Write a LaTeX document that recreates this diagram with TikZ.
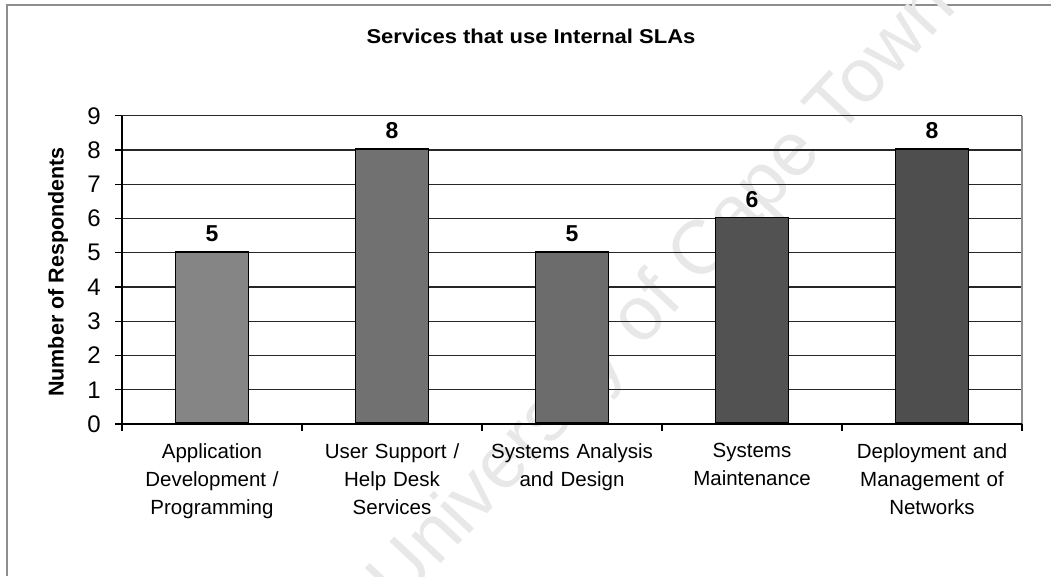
\documentclass[tikz,border=0pt]{standalone}
\usepackage{fontspec}
\setmainfont{Liberation Sans}
\newfontfamily\titlefont[FakeStretch=1.1]{Liberation Sans}
\usepackage{tikz}
\usetikzlibrary{positioning}
\definecolor{shade0}{HTML}{858585}
\definecolor{shade1}{HTML}{717171}
\definecolor{shade2}{HTML}{6C6C6C}
\definecolor{shade3}{HTML}{525252}
\definecolor{shade4}{HTML}{4E4E4E}
\definecolor{frame}{HTML}{8E8E8E}

\begin{document}
\begin{tikzpicture}[x=1pt, y=1pt,
  bar/.style={draw=black, line width=1.6pt, minimum width=73pt, inner sep=0pt,
              anchor=south},
  grid/.style={line width=1.1pt, black!85},
  value/.style={font=\bfseries\fontsize{23}{25}\selectfont, inner sep=3pt, above=6pt},
  ticklabel/.style={font=\fontsize{24}{26}\selectfont, anchor=east, inner sep=0pt},
  category/.style={font=\fontsize{20.5}{28.3}\selectfont, align=center, anchor=north,
                   inner sep=0pt, text width=170pt},
  title/.style={font=\titlefont\bfseries\fontsize{20}{22}\selectfont},
  axistitle/.style={font=\bfseries\fontsize{21.5}{24}\selectfont, rotate=90},
  watermark/.style={font=\fontsize{76}{78}\selectfont, text=black!9, rotate=47},
]
\useasboundingbox (0,0) rectangle (1051,576);

% page frame (only top and left edges show)
\draw[frame, line width=2pt] (7,0) -- (7,571) -- (1051,571);

\node[watermark] (wm) at (665,281) {University of Cape Town};

% title
\node[title] (ttl) at (531,540) {Services that use Internal SLAs};

% plot area and grid
\draw[grid] (122,186.25) -- (1022,186.25);
\draw[grid] (122,220.5) -- (1022,220.5);
\draw[grid] (122,254.75) -- (1022,254.75);
\draw[grid] (122,289) -- (1022,289);
\draw[grid] (122,323.25) -- (1022,323.25);
\draw[grid] (122,357.5) -- (1022,357.5);
\draw[grid] (122,391.75) -- (1022,391.75);
\draw[grid] (122,426) -- (1022,426);
\draw[grid] (122,460.25) -- (1022,460.25);
\draw[frame, line width=1.2pt] (1022,152) -- (1022,460.25);

% bars
\node[bar, fill=shade0, minimum height=171.25pt] (b1) at (212,152) {};
\node[bar, fill=shade1, minimum height=274pt]    (b2) at (392,152) {};
\node[bar, fill=shade2, minimum height=171.25pt] (b3) at (572,152) {};
\node[bar, fill=shade3, minimum height=205.5pt]  (b4) at (752,152) {};
\node[bar, fill=shade4, minimum height=274pt]    (b5) at (932,152) {};

\node[value] (v1) at (b1.north) {5};
\node[value] (v2) at (b2.north) {8};
\node[value] (v3) at (b3.north) {5};
\node[value] (v4) at (b4.north) {6};
\node[value] (v5) at (b5.north) {8};

% axes
\draw[line width=1.4pt] (122,152) -- (122,460.25);
\draw[line width=1.4pt] (115,152) -- (1022,152);
\draw[line width=1.1pt] (115,186.25) -- (122,186.25);
\draw[line width=1.1pt] (115,220.5) -- (122,220.5);
\draw[line width=1.1pt] (115,254.75) -- (122,254.75);
\draw[line width=1.1pt] (115,289) -- (122,289);
\draw[line width=1.1pt] (115,323.25) -- (122,323.25);
\draw[line width=1.1pt] (115,357.5) -- (122,357.5);
\draw[line width=1.1pt] (115,391.75) -- (122,391.75);
\draw[line width=1.1pt] (115,426) -- (122,426);
\draw[line width=1.1pt] (115,460.25) -- (122,460.25);
\draw[line width=1.1pt] (122,152) -- (122,145);
\draw[line width=1.1pt] (302,152) -- (302,145);
\draw[line width=1.1pt] (482,152) -- (482,145);
\draw[line width=1.1pt] (662,152) -- (662,145);
\draw[line width=1.1pt] (842,152) -- (842,145);
\draw[line width=1.1pt] (1022,152) -- (1022,145);

\node[ticklabel] (t0) at (101,152) {0};
\node[ticklabel] (t1) at (101,186.25) {1};
\node[ticklabel] (t2) at (101,220.5) {2};
\node[ticklabel] (t3) at (101,254.75) {3};
\node[ticklabel] (t4) at (101,289) {4};
\node[ticklabel] (t5) at (101,323.25) {5};
\node[ticklabel] (t6) at (101,357.5) {6};
\node[ticklabel] (t7) at (101,391.75) {7};
\node[ticklabel] (t8) at (101,426) {8};
\node[ticklabel] (t9) at (101,460.25) {9};

\node[axistitle] (ytl) at (58,304) {Number of Respondents};

% category labels
\node[category] (c1) at (212,133) {Application\\Development /\\Programming};
\node[category] (c2) at (392,133) {User Support /\\Help Desk\\Services};
\node[category] (c3) at (572,133) {Systems Analysis\\and Design};
\node[category] (c4) at (752,133) {Systems\\Maintenance};
\node[category] (c5) at (932,133) {Deployment and\\Management of\\Networks};

\end{tikzpicture}
\end{document}
